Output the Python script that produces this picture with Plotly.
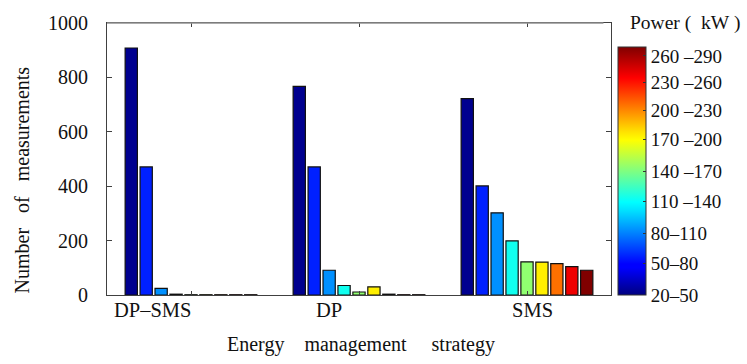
import plotly.graph_objects as go

# Energy management strategies and power bins
strategies = ["DP–SMS", "DP", "SMS"]
power_bins = ["20–50", "50–80", "80–110", "110–140", "140–170",
              "170–200", "200–230", "230–260", "260–290"]

# Number of measurements per power bin, one list per bin (DP–SMS, DP, SMS)
bin_20_50 = [908, 767, 722]
bin_50_80 = [471, 471, 401]
bin_80_110 = [24, 91, 302]
bin_110_140 = [3, 35, 199]
bin_140_170 = [1, 11, 122]
bin_170_200 = [1, 30, 121]
bin_200_230 = [1, 3, 115]
bin_230_260 = [1, 1, 104]
bin_260_290 = [1, 1, 91]
counts = [bin_20_50, bin_50_80, bin_80_110, bin_110_140, bin_140_170,
          bin_170_200, bin_200_230, bin_230_260, bin_260_290]

bin_colors = ["#00008F", "#0020FF", "#0090FF", "#10FFEF", "#90FF70",
              "#FFEF00", "#FF7000", "#EF0000", "#800000"]

# Colour bar labels and their positions along the bar (0 = bottom, 1 = top)
cbar_labels = ["20–50", "50–80", "80–110", "110 –140", "140 –170",
               "170 –200", "200 –230", "230 –260", "260 –290"]
cbar_positions = [0.0, 0.127, 0.25, 0.377, 0.499, 0.626, 0.745, 0.856, 0.964]

jet = [[0.0, "#000080"], [0.11, "#0000FF"], [0.125, "#0000FF"],
       [0.34, "#00E0FF"], [0.375, "#00FFFF"], [0.5, "#80FF80"],
       [0.625, "#FFFF00"], [0.66, "#FFE000"], [0.875, "#FF0000"],
       [1.0, "#800000"]]

FONT = "Times New Roman"
INK = "#111111"

fig = go.Figure()
for name, vals, col in zip(power_bins, counts, bin_colors):
    fig.add_trace(go.Bar(
        x=strategies, y=vals, name=name,
        marker=dict(color=col, line=dict(color=INK, width=1.2)),
        showlegend=False,
    ))

# Invisible trace that carries the continuous colour bar
fig.add_trace(go.Scatter(
    x=[strategies[0]], y=[0], mode="markers", hoverinfo="skip", showlegend=False,
    marker=dict(size=0.1, opacity=0, color=[0], cmin=0, cmax=1, colorscale=jet,
                showscale=True,
                colorbar=dict(
                    x=1.014, xanchor="left", xref="paper",
                    y=0, yanchor="bottom", yref="paper",
                    len=0.913, lenmode="fraction",
                    thickness=28, thicknessmode="pixels",
                    outlinecolor="#333333", outlinewidth=1,
                    tickvals=cbar_positions, ticktext=cbar_labels,
                    ticks="inside", ticklen=3, tickcolor="#333333",
                    tickfont=dict(family=FONT, size=19, color=INK),
                    ypad=0, xpad=0,
                )),
))

fig.update_layout(
    width=747, height=364,
    margin=dict(l=107, r=136, t=19, b=69),
    plot_bgcolor="white", paper_bgcolor="white",
    barmode="group", bargap=0.2, bargroupgap=0.18,
    font=dict(family=FONT, size=19, color=INK),
    xaxis=dict(
        type="category", range=[-0.5, 2.5],
        showticklabels=False,
        showline=True, linecolor="#404040", linewidth=1.2, mirror="ticks",
        ticks="inside", ticklen=4, tickcolor="#404040",
        showgrid=False, zeroline=False,
    ),
    yaxis=dict(
        range=[0, 1000], tickvals=[0, 200, 400, 600, 800, 1000],
        showline=True, linecolor="#404040", linewidth=1.2, mirror="ticks",
        ticks="inside", ticklen=5, tickcolor="#404040",
        tickfont=dict(family=FONT, size=20, color=INK),
        ticklabelstandoff=14,
        showgrid=False, zeroline=False,
    ),
)

# Lighter top border of the plot frame
fig.add_shape(type="line", xref="paper", yref="paper", x0=0, x1=0.985, y0=1, y1=1,
              line=dict(color="#909090", width=1.5), layer="above")

# Strategy labels beneath the axis
label_shift = [-38, -30, 5]
for s, dx in zip(strategies, label_shift):
    fig.add_annotation(x=s, xref="x", y=-0.054, yref="paper", text=s,
                       showarrow=False, xshift=dx, xanchor="center", yanchor="middle",
                       font=dict(family=FONT, size=20.5, color=INK))

# Axis titles
fig.add_annotation(x=0.504, xref="paper", y=-0.181, yref="paper",
                   text="Energy\u00a0\u00a0\u00a0\u00a0management\u00a0\u00a0\u00a0\u00a0\u00a0strategy",
                   showarrow=False, xanchor="center", yanchor="middle",
                   font=dict(family=FONT, size=20, color=INK))
fig.add_annotation(x=-0.169, xref="paper", y=0.424, yref="paper",
                   text="Number\u00a0\u00a0\u00a0of\u00a0\u00a0\u00a0measurements",
                   showarrow=False, textangle=-90, xanchor="center", yanchor="middle",
                   font=dict(family=FONT, size=20, color=INK))

# Colour bar heading
fig.add_annotation(x=(685 - 107) / 504, xref="paper", y=1.0, yref="paper",
                   xanchor="center", yanchor="middle", text="Power (\u00a0\u00a0kW\u00a0)",
                   showarrow=False, font=dict(family=FONT, size=19.5, color=INK))

fig.write_html("out.html")
